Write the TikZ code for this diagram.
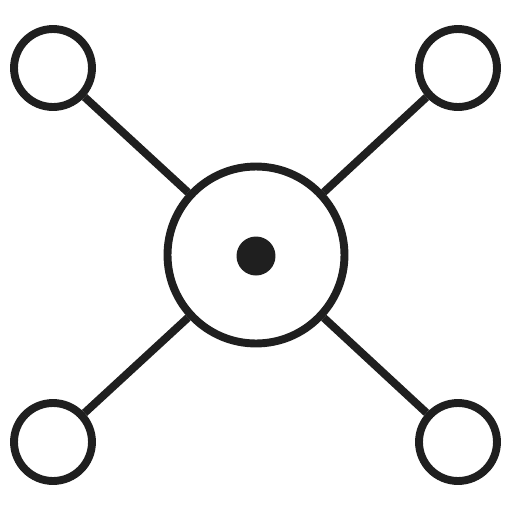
\documentclass[tikz,border=0pt]{standalone}
\usepackage{tikz}

\begin{document}
\begin{tikzpicture}[x=0.02cm,y=-0.02cm]
	\tikzstyle{every path}=[line width=4.5pt,color=black!88]
	\useasboundingbox (0,0) rectangle (512,512);

	\tikzstyle{hub}=[circle,draw,minimum size=3.54cm,inner sep=0pt]
	\tikzstyle{leaf}=[circle,draw,minimum size=1.56cm,inner sep=0pt]
	\tikzstyle{core}=[circle,fill,minimum size=0.78cm,inner sep=0pt]

	%% Draw center
	\node [hub] (hub) at (256,255) {};
	\node [core] (core) at (256,256) {};

	%% Draw outer circles
	\node [leaf] (nw) at (53,68) {};
	\node [leaf] (ne) at (458,68) {};
	\node [leaf] (sw) at (53,442) {};
	\node [leaf] (se) at (458,442) {};

	\foreach \n in {nw,ne,sw,se}
		\draw (\n) -- (hub);

\end{tikzpicture}
\end{document}
